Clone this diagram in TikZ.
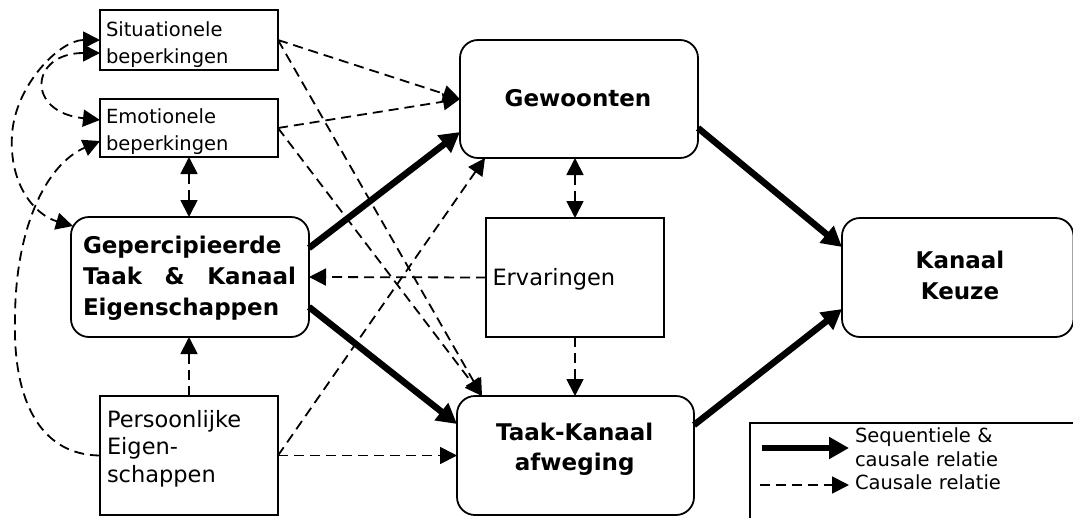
\documentclass[tikz,border=0pt]{standalone}
\usepackage{fontspec}
\setmainfont{DejaVu Sans}
\usetikzlibrary{arrows.meta,calc}
\begin{document}
\begin{tikzpicture}[x=1pt,y=-1pt,
  box/.style={draw,line width=1.8pt,inner sep=0pt,outer sep=0pt},
  rbox/.style={box,rounded corners=18pt},
  txt/.style={inner sep=0pt,outer sep=0pt,align=left,text width=170pt},
  bld/.style={font=\fontsize{23}{31}\selectfont\bfseries,align=center,inner sep=0pt,outer sep=0pt},
  thickarrow/.style={line width=6.5pt,-{Triangle[length=20pt,width=21pt]}},
  dasharrow/.style={line width=1.8pt,dash pattern=on 10pt off 6pt,-{Triangle[length=17pt,width=17pt]}},
  dashboth/.style={line width=1.8pt,dash pattern=on 10pt off 6pt,{Triangle[length=17pt,width=17pt]}-{Triangle[length=17pt,width=17pt]}},
]
\useasboundingbox (0,0) rectangle (1073,517);
\fill[white] (0,0) rectangle (1073,517);
\clip (0,0) rectangle (1073,517);

% boxes
\node[box,minimum width=178pt,minimum height=60pt] (sit) at (189,40) {};
\node[box,minimum width=178pt,minimum height=58pt] (emo) at (189,128) {};
\node[rbox,minimum width=238pt,minimum height=120pt] (gep) at (190,277) {};
\node[box,minimum width=178pt,minimum height=119pt] (per) at (189,455.5) {};
\node[rbox,minimum width=238pt,minimum height=118pt] (gew) at (579,99) {};
\node[box,minimum width=178pt,minimum height=119pt] (erv) at (575,277.5) {};
\node[rbox,minimum width=237pt,minimum height=119pt] (tk) at (575.5,455.5) {};
\node[rbox,minimum width=231.5pt,minimum height=119pt] (kk) at (957.75,277.5) {};
\node[box,minimum width=335pt,minimum height=110pt,anchor=north west] (leg) at (750,423) {};

% texts
\node[txt,anchor=west,font=\fontsize{19.5}{27}\selectfont] (sitT) at (106,44.4) {Situationele\\beperkingen};
\node[txt,anchor=west,font=\fontsize{19.5}{27}\selectfont] (emoT) at (106,131.4) {Emotionele\\beperkingen};
\node[txt,anchor=west,font=\fontsize{22.5}{27.5}\selectfont] (perT) at (107,448.3) {Persoonlijke\\Eigen-\\schappen};
\node[txt,anchor=west,font=\fontsize{22.5}{27.5}\selectfont] (ervT) at (492.5,279) {Ervaringen};
\node[bld,align=left,text width=213pt] (gepT) at (189.5,278.6) {Gepercipieerde\\\leavevmode\hbox to 213pt{Taak\hfill\&\hfill Kanaal}\\Eigenschappen};
\node[bld] (gewT) at (578,98) {Gewoonten};
\node[bld,font=\fontsize{23}{30}\selectfont\bfseries] (tkT) at (574.7,449) {Taak-Kanaal\\afweging};
\node[bld,font=\fontsize{23}{31.7}\selectfont\bfseries] (kkT) at (960,275.4) {Kanaal\\Keuze};
\node[txt,anchor=west,font=\fontsize{19.5}{24}\selectfont] (legT1) at (855,447.3) {Sequentiele \&\\causale relatie};
\node[txt,anchor=west,font=\fontsize{19.5}{24}\selectfont] (legT2) at (855,481.9) {Causale relatie};

% thick arrows
\draw[thickarrow] ([yshift=29pt]gep.east) -- ([yshift=-33pt]gew.west);
\draw[thickarrow] ([yshift=-30pt]gep.east) -- ([yshift=31.5pt]tk.west);
\draw[thickarrow] ([yshift=-29pt]gew.east) -- ([yshift=30.5pt]kk.west);
\draw[thickarrow] ([yshift=30.5pt]tk.east) -- ([yshift=-31.5pt]kk.west);

% dashed arrows
\draw[dasharrow] (sit.east) -- (gew.west);
\draw[dasharrow] (emo.east) -- (gew.west);
\draw[dasharrow] (sit.east) -- ([xshift=-93.5pt]tk.north);
\draw[dasharrow] (emo.east) -- ([xshift=-93.5pt]tk.north);
\draw[dasharrow] (per.east) -- ([xshift=-94pt]gew.south);
\draw[dasharrow] (per.east) -- (tk.west);
\draw[dasharrow] (per.north) -- (per.north |- gep.south);
\draw[dashboth] (emo.south) -- (emo.south |- gep.north);
\draw[dashboth] (erv.north |- gew.south) -- (erv.north);
\draw[dasharrow] (erv.west) -- (gep.east);
\draw[dasharrow] (erv.south) -- (erv.south |- tk.north);

% curves on the left
\draw[dashboth] (sit.west) .. controls (60,40) and (15,85) .. (12,135)
  .. controls (9,185) and (35,215) .. ([xshift=2pt,yshift=-9pt]gep.north west);
\draw[dashboth] ([yshift=-13pt]sit.west) .. controls (30,53) and (25,112) .. ([yshift=8pt]emo.west);
\draw[dasharrow] (per.west) .. controls (40,455) and (13,400) .. (15,320)
  .. controls (15,230) and (45,165) .. ([yshift=-13pt]emo.west);

% legend arrows
\coordinate (l1a) at (762,448);
\coordinate (l2a) at (760,485);
\draw[thickarrow] (l1a) -- ([xshift=-6pt]legT1.west |- l1a);
\draw[dasharrow] (l2a) -- ([xshift=-6pt]legT2.west |- l2a);
\end{tikzpicture}
\end{document}
